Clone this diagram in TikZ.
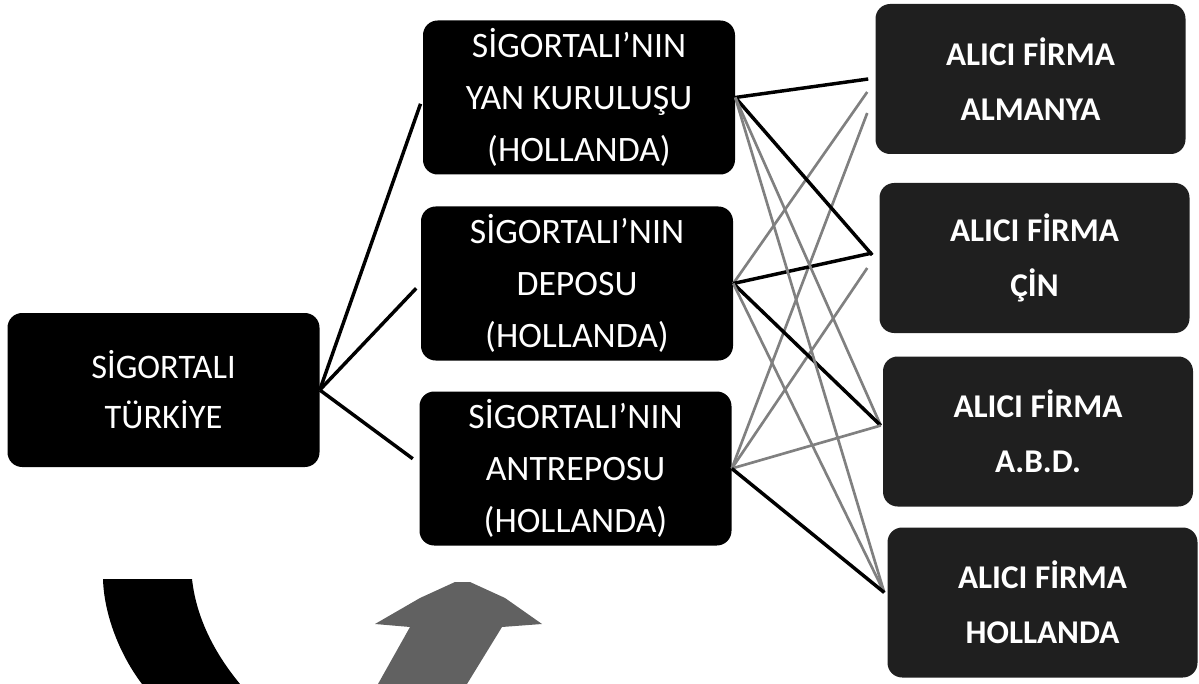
\documentclass[tikz,border=0pt]{standalone}
\usepackage{fontspec}
\setmainfont{Carlito}
\tikzset{
  box/.style={fill=black, rounded corners=11pt, text=white, align=center,
    minimum width=234pt, minimum height=115.5pt,
    font=\fontsize{26.8}{39}\selectfont},
  firm/.style={box, fill=black!88, minimum width=232.5pt, minimum height=112.5pt,
    font=\fontsize{24.9}{41}\selectfont\bfseries},
  link/.style={line width=2.6pt},
  faint/.style={line width=2pt, black!50},
}
\begin{document}
\begin{tikzpicture}[x=0.75pt, y=-0.75pt]
    \useasboundingbox (0,0) rectangle (1199,684);
    \node [box, font=\fontsize{25.8}{37.5}\selectfont] (ins) at (163.5,390) {SİGORTALI\\TÜRKİYE};
    \node [box] (sub) at (579,97.5) {SİGORTALI'NIN\\YAN KURULUŞU\\(HOLLANDA)};
    \node [box] (dep) at (577,283.5) {SİGORTALI'NIN\\DEPOSU\\(HOLLANDA)};
    \node [box] (ant) at (575.5,468.5) {SİGORTALI'NIN\\ANTREPOSU\\(HOLLANDA)};
    \node [firm] (de) at (1030.5,79) {ALICI FİRMA\\ALMANYA};
    \node [firm] (cn) at (1034.5,258) {ALICI FİRMA\\ÇİN};
    \node [firm] (us) at (1038,431.5) {ALICI FİRMA\\A.B.D.};
    \node [firm] (nl) at (1042.5,602.5) {ALICI FİRMA\\HOLLANDA};
    % insured -> its three sites
    \draw [link, shorten >=5pt] (ins.east) -- (sub.west);
    \draw [link, shorten >=5pt] (ins.east) -- (dep.west);
    \draw [link, shorten >=6pt] (ins.east) -- ([shift={(0,-5)}]ant.west);
    % sites -> buyers
    \draw [link] (sub.east) -- ([shift={(-7,0)}]de.west);
    \draw [faint] (dep.east) -- ([shift={(-8,13)}]de.west);
    \draw [faint] (ant.east) -- ([shift={(-8,34)}]de.west);
    \draw [link] (sub.east) -- ([shift={(-7,-3)}]cn.west);
    \draw [link] (dep.east) -- ([shift={(-7,-5)}]cn.west);
    \draw [faint] (ant.east) -- ([shift={(-12,10)}]cn.west);
    \draw [faint] (sub.east) -- ([shift={(-2,-6)}]us.west);
    \draw [link] (dep.east) -- ([shift={(-2,-6)}]us.west);
    \draw [faint] (ant.east) -- ([shift={(-2,-6)}]us.west);
    \draw [faint] (sub.east) -- ([shift={(-3,-10)}]nl.west);
    \draw [faint] (dep.east) -- ([shift={(-3,-10)}]nl.west);
    \draw [link] (ant.east) -- ([shift={(-3,-10)}]nl.west);
    % bits of the two big arrows at the bottom
    \fill (103,579) -- (192,579) .. controls (196,615) and (212,650) .. (240,684)
      -- (142,684) .. controls (120,655) and (104,615) .. (103,579) -- cycle;
    \fill [black!62] (375,624) -- (420,598) -- (455,582) -- (470,582) -- (505,598)
      -- (542,624) -- (502,627) -- (467,684) -- (378,684) -- (410,627) -- cycle;
\end{tikzpicture}
\end{document}
